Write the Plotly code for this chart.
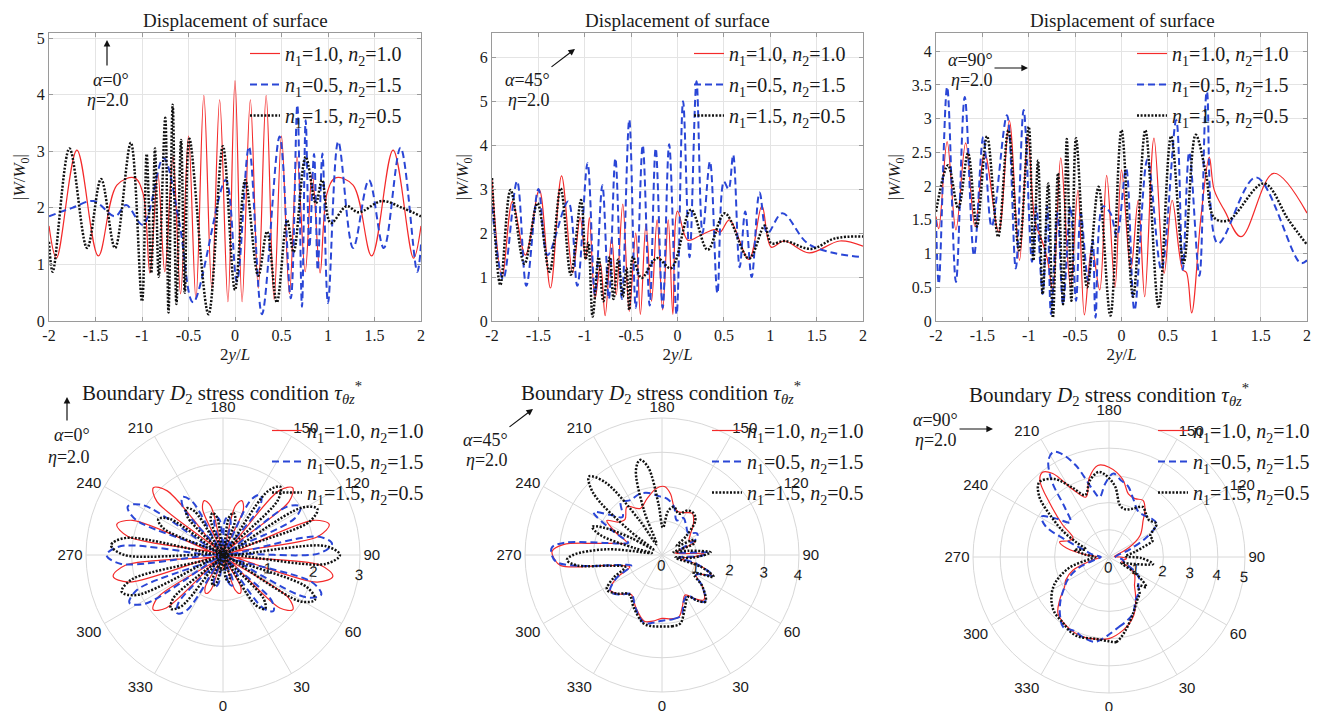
import plotly.graph_objects as go

W, H = 1330, 711

# ---------------- |W/W0| along 2y/L (top row) ----------------
# alpha = 0 deg
a0_red_x = [-2.0, -1.92, -1.70, -1.47, -1.27, -1.08, -0.99, -0.915, -0.83, -0.755, -0.667, -0.585, -0.50, -0.42, -0.335, -0.25, -0.165, -0.076, 0.0,
            0.076, 0.165, 0.25, 0.335, 0.42, 0.50, 0.585, 0.667, 0.755, 0.83, 0.915, 0.99, 1.08, 1.27, 1.47, 1.70, 1.92, 2.0]
a0_red_y = [1.68, 1.11, 3.02, 1.15, 2.40, 2.53, 2.26, 0.85, 2.61, 0.87, 2.90, 0.48, 3.27, 0.38, 3.99, 0.58, 3.91, 0.34, 4.25,
            0.34, 3.91, 0.58, 3.99, 0.38, 3.27, 0.48, 2.90, 0.87, 2.61, 0.85, 2.26, 2.53, 2.40, 1.15, 3.02, 1.11, 1.68]
a0_blue_x = [-2.0, -1.75, -1.52, -1.29, -1.17, -0.99, -0.77, -0.60, -0.45, -0.10, 0.02, 0.15, 0.29, 0.48, 0.60,
             0.67, 0.72, 0.76, 0.80, 0.85, 0.89, 0.94, 1.00, 1.11, 1.27, 1.44, 1.60, 1.78, 1.96, 2.0]
a0_blue_y = [1.85, 2.0, 2.12, 1.85, 2.05, 1.70, 2.88, 1.75, 0.33, 2.49, 0.70, 3.08, 0.12, 3.26, 0.40,
             3.82, 0.25, 3.55, 1.3, 2.95, 0.9, 2.96, 0.32, 3.17, 1.29, 2.49, 1.29, 3.06, 0.87, 1.35]
a0_blk_x = [-2.0, -1.96, -1.78, -1.59, -1.44, -1.29, -1.12, -1.00, -0.95, -0.90, -0.86, -0.82, -0.75, -0.715, -0.67, -0.63, -0.58, -0.54, -0.49,
            -0.285, -0.13, 0.0, 0.11, 0.25, 0.345, 0.45, 0.56, 0.63, 0.76, 0.87, 0.935, 1.03, 1.20, 1.33, 1.58, 1.80, 2.0]
a0_blk_y = [1.40, 0.87, 3.05, 1.29, 2.51, 1.29, 3.15, 0.35, 2.95, 0.85, 3.05, 0.78, 3.59, 0.15, 3.82, 0.30, 3.20, 0.50, 3.22,
            0.12, 3.09, 0.55, 2.49, 0.80, 1.58, 0.33, 1.78, 1.22, 2.90, 2.08, 2.49, 1.73, 2.03, 1.92, 2.12, 2.0, 1.85]

# alpha = 45 deg
a45_red_x = [-2.0, -1.89, -1.78, -1.64, -1.49, -1.37, -1.25, -1.13, -1.05, -0.99, -0.95, -0.89, -0.83, -0.78, -0.71, -0.66, -0.59, -0.52, -0.45, -0.40,
             -0.34, -0.28, -0.22, -0.16, -0.10, -0.05, 0.0, 0.11, 0.25, 0.40, 0.46, 0.56, 0.77, 0.91, 1.01, 1.15, 1.42, 1.75, 2.0]
a45_red_y = [3.2, 1.0, 2.72, 1.5, 2.98, 0.75, 3.30, 1.1, 2.35, 1.4, 2.35, 0.5, 1.3, 0.12, 1.9, 0.6, 2.66, 0.22, 2.0, 0.15,
             2.2, 0.45, 2.3, 0.25, 2.3, 0.15, 2.5, 1.84, 1.95, 2.08, 2.02, 2.30, 1.40, 2.62, 1.68, 1.82, 1.55, 1.82, 1.70]
a45_blue_x = [-2.0, -1.88, -1.73, -1.63, -1.50, -1.40, -1.18, -1.08, -0.97, -0.89, -0.81, -0.74, -0.67, -0.60, -0.52, -0.45, -0.375, -0.30, -0.235, -0.16,
              -0.09, -0.01, 0.06, 0.13, 0.205, 0.27, 0.35, 0.43, 0.50, 0.55, 0.60, 0.67, 0.73, 0.80, 0.885, 0.97, 1.13, 1.40, 1.70, 2.0]
a45_blue_y = [2.6, 0.95, 3.18, 0.80, 3.0, 1.5, 2.72, 0.80, 3.59, 0.6, 3.09, 0.5, 3.70, 0.5, 4.58, 0.3, 4.0, 0.35, 3.93, 0.3,
              4.02, 0.15, 5.0, 1.45, 5.45, 2.0, 3.63, 0.63, 3.17, 3.0, 3.78, 1.22, 2.49, 1.0, 2.92, 2.0, 2.45, 1.77, 1.54, 1.45]
a45_blk_x = [-2.0, -1.91, -1.80, -1.65, -1.51, -1.38, -1.26, -1.15, -1.04, -0.99, -0.96, -0.915, -0.85, -0.80, -0.73, -0.69, -0.64,
             -0.59, -0.55, -0.52, -0.48, -0.39, -0.22, -0.07, 0.145, 0.325, 0.51, 0.77, 0.94, 1.01, 1.16, 1.44, 1.70, 2.0]
a45_blk_y = [3.25, 0.82, 2.98, 1.30, 2.68, 1.12, 3.02, 1.05, 2.75, 1.4, 1.78, 0.10, 1.45, 0.45, 1.46, 0.5, 1.40,
             0.55, 1.2, 0.25, 1.46, 0.98, 1.43, 1.20, 2.53, 1.62, 2.45, 1.42, 2.17, 1.77, 1.82, 1.64, 1.88, 1.92]

# alpha = 90 deg
a90_red_x = [-2.0, -1.97, -1.88, -1.785, -1.68, -1.58, -1.475, -1.325, -1.21, -1.10, -1.01, -0.93, -0.86, -0.80, -0.74, -0.655, -0.55, -0.47, -0.40, -0.32,
             -0.235, -0.16, -0.07, 0.0, 0.10, 0.18, 0.25, 0.35, 0.46, 0.546, 0.66, 0.70, 0.757, 0.857, 0.946, 1.0, 1.11, 1.29, 1.64, 2.0]
a90_red_y = [1.55, 1.37, 2.66, 1.35, 2.64, 1.40, 2.49, 1.32, 2.97, 0.90, 2.73, 1.45, 1.20, 0.92, 0.45, 2.42, 0.5, 1.94, 0.09, 1.1,
             0.46, 2.16, 0.5, 2.24, 0.76, 1.79, 0.36, 2.71, 0.71, 1.79, 0.76, 0.72, 0.12, 1.55, 2.43, 1.94, 1.64, 1.25, 2.19, 1.6]
a90_blue_x = [-2.0, -1.97, -1.88, -1.785, -1.69, -1.59, -1.49, -1.40, -1.235, -1.14, -1.055, -0.965, -0.92, -0.85, -0.80, -0.76, -0.69, -0.63, -0.55, -0.49,
              -0.44, -0.36, -0.31, -0.28, -0.20, -0.12, -0.05, 0.05, 0.14, 0.28, 0.43, 0.59, 0.66, 0.73, 0.84, 0.92, 1.04, 1.45, 1.93, 2.0]
a90_blue_y = [1.5, 0.55, 3.47, 0.58, 3.32, 0.97, 2.73, 1.4, 3.05, 0.78, 3.13, 0.88, 1.7, 0.4, 1.7, 0.1, 1.6, 0.25, 1.7, 0.3,
              1.6, 0.6, 1.2, 0.05, 1.7, 1.6, 1.25, 2.26, 0.16, 2.40, 0.76, 2.98, 0.76, 2.5, 0.67, 3.4, 1.15, 2.13, 0.86, 0.90]
a90_blk_x = [-2.0, -1.87, -1.76, -1.655, -1.56, -1.45, -1.33, -1.22, -1.105, -1.0, -0.95, -0.90, -0.85, -0.79, -0.74, -0.685, -0.63, -0.59,
             -0.54, -0.49, -0.37, -0.247, -0.12, 0.0, 0.125, 0.257, 0.40, 0.535, 0.67, 0.80, 0.91, 1.0, 1.15, 1.535, 1.80, 2.0]
a90_blk_y = [1.62, 2.31, 1.67, 2.49, 1.40, 2.74, 1.25, 2.83, 1.05, 2.88, 0.9, 2.38, 0.4, 2.04, 0.05, 2.19, 0.25, 2.70,
             0.30, 2.71, 0.5, 1.99, 0.08, 2.83, 0.36, 2.83, 0.21, 2.74, 0.86, 2.76, 2.19, 1.53, 1.49, 2.04, 1.5, 1.13]

# ---------------- boundary stress tau_theta_z* (bottom row, polar) ----------------
# alpha = 0 deg
p0_red_t = [0, 10, 19, 24, 29, 38, 47, 52, 57, 65, 74, 79, 84, 92, 101, 106, 111, 120, 129, 134, 139, 147, 156, 161, 166, 172, 180,
            188, 194, 199, 204, 213, 221, 226, 231, 240, 249, 254, 259, 268, 276, 281, 286, 295, 303, 308, 313, 322, 331, 336, 341, 350, 360]
p0_red_r = [0.3, 0.03, 0.8, 0.92, 0.8, 0.03, 1.7, 1.94, 1.7, 0.03, 2.15, 2.45, 2.15, 0.03, 2.12, 2.42, 2.12, 0.03, 1.86, 2.12, 1.86, 0.03, 1.1, 1.26, 1.1, 0.03, 0.3,
            0.03, 1.1, 1.26, 1.1, 0.03, 1.86, 2.12, 1.86, 0.03, 2.12, 2.42, 2.12, 0.03, 2.15, 2.45, 2.15, 0.03, 1.7, 1.94, 1.7, 0.03, 0.8, 0.92, 0.8, 0.03, 0.3]
p0_blue_t = [0, 11, 16, 21, 29, 37, 42, 47, 55, 63, 68, 73, 82, 91, 96, 101, 109, 117, 122, 127, 135, 143, 148, 153, 160, 167, 172, 177, 181,
             185, 190, 195, 203, 210, 215, 220, 229, 238, 243, 248, 256, 265, 270, 275, 283, 292, 297, 302, 310, 317, 322, 327, 334, 341, 346, 351, 360]
p0_blue_r = [0.1, 0.6, 0.7, 0.6, 0.03, 1.45, 1.65, 1.45, 0.03, 2.04, 2.32, 2.04, 0.03, 2.11, 2.4, 2.11, 0.03, 1.76, 2.0, 1.76, 0.03, 1.36, 1.55, 1.36, 0.03, 0.75, 0.85, 0.75, 0.05,
             0.75, 0.85, 0.75, 0.03, 1.36, 1.55, 1.36, 0.03, 2.06, 2.34, 2.06, 0.03, 2.24, 2.55, 2.24, 0.03, 2.02, 2.3, 2.02, 0.03, 1.43, 1.62, 1.43, 0.03, 0.63, 0.72, 0.63, 0.1]
p0_blk_t = [0, 7, 12, 17, 25, 33, 38, 43, 51, 59, 64, 69, 77, 85, 90, 95, 103, 111, 116, 121, 128, 135, 140, 145, 153, 161, 166, 171, 180,
            189, 194, 199, 206, 213, 218, 223, 230, 236, 241, 246, 253, 260, 265, 270, 278, 285, 290, 295, 303, 311, 316, 321, 329, 337, 342, 347, 360]
p0_blk_r = [0.15, 0.52, 0.6, 0.52, 0.03, 1.3, 1.5, 1.3, 0.03, 1.97, 2.24, 1.97, 0.03, 2.25, 2.56, 2.25, 0.03, 2.02, 2.3, 2.02, 0.03, 1.7, 1.95, 1.7, 0.03, 0.83, 0.95, 0.83, 0.1,
            0.83, 0.95, 0.83, 0.03, 1.14, 1.3, 1.14, 0.03, 1.42, 1.62, 1.42, 0.03, 2.16, 2.46, 2.16, 0.03, 2.07, 2.36, 2.07, 0.03, 1.44, 1.64, 1.44, 0.03, 0.62, 0.7, 0.62, 0.15]

# alpha = 45 deg
p45_red_t = [0, 8, 15, 22, 30, 37, 43, 52, 60, 68, 75, 80, 86, 92, 98, 104, 112, 118, 125, 135, 144, 152, 160, 166, 172, 178, 185, 195, 205, 216, 226, 233,
             238, 244, 251, 255, 260, 264, 268, 272, 276, 280, 285, 290, 297, 304, 312, 322, 333, 345, 352, 360]
p45_red_r = [1.85, 1.88, 1.88, 1.6, 1.35, 1.6, 1.79, 1.5, 1.15, 1.55, 1.1, 0.5, 0.9, 1.22, 0.4, 0.5, 1.05, 0.9, 1.0, 1.3, 1.5, 1.4, 1.35, 1.45, 1.8, 2.0, 1.95, 1.7, 1.5, 1.74, 1.5, 1.6,
             1.9, 1.5, 1.07, 1.31, 1.96, 2.9, 3.21, 3.15, 2.97, 1.79, 1.2, 1.0, 1.5, 1.83, 1.7, 1.46, 1.7, 2.0, 1.95, 1.85]
p45_blue_t = [0, 10, 18, 25, 32, 38, 43, 52, 60, 68, 76, 82, 88, 93, 100, 108, 116, 122, 130, 140, 150, 157, 166, 175, 183, 192, 200, 210, 218, 226, 232,
              238, 244, 250, 255, 259, 263, 266, 270, 274, 278, 283, 289, 297, 305, 313, 322, 333, 345, 352, 360]
p45_blue_r = [1.92, 1.9, 1.85, 1.5, 1.4, 1.7, 1.85, 1.5, 1.15, 1.6, 1.0, 0.5, 1.1, 1.35, 0.5, 0.6, 1.15, 1.2, 1.0, 1.1, 1.25, 1.1, 1.45, 1.65, 1.72, 1.85, 1.9, 1.85, 1.95, 1.6, 1.9,
              2.35, 1.6, 1.05, 1.3, 1.9, 2.9, 3.22, 3.22, 3.07, 2.3, 1.3, 0.95, 1.5, 1.85, 1.7, 1.45, 1.72, 2.05, 2.0, 1.92]
p45_blk_t = [0, 8, 15, 23, 32, 38, 43, 52, 60, 67, 73, 79, 85, 93, 99, 104, 110, 115, 121, 128, 136, 143, 150, 158, 166, 172, 178, 184, 189, 193, 197,
             202, 207, 213, 218, 223, 228, 233, 237, 241, 245, 248, 252, 256, 259, 264, 270, 273, 277, 282, 288, 295, 302, 310, 320, 332, 345, 352, 360]
p45_blk_r = [2.09, 2.1, 2.07, 1.7, 1.44, 1.7, 1.86, 1.5, 1.07, 1.64, 1.2, 0.4, 0.9, 1.42, 0.8, 0.35, 1.0, 1.05, 0.5, 0.9, 1.4, 1.53, 1.5, 1.3, 1.45, 1.3, 0.8, 1.5, 2.6, 2.85, 2.6,
             1.4, 0.35, 1.2, 2.7, 3.13, 2.7, 1.2, 0.3, 1.0, 1.9, 2.2, 1.9, 0.8, 0.3, 1.6, 2.6, 2.78, 2.5, 1.5, 1.13, 1.55, 1.9, 1.75, 1.5, 1.75, 2.07, 2.1, 2.09]

# alpha = 90 deg
p90_red_t = [0, 11, 20, 26, 35, 42, 48, 55, 62, 70, 78, 85, 90, 95, 105, 115, 125, 137, 143, 149, 156, 163, 170, 180, 187, 194, 201, 208, 214, 218, 222,
             228, 235, 242, 248, 253, 258, 265, 272, 280, 290, 298, 304, 311, 318, 330, 342, 352, 360]
p90_red_r = [3.0, 2.74, 2.45, 2.18, 1.7, 1.4, 1.28, 1.15, 0.9, 0.5, 0.55, 0.65, 0.4, 0.2, 0.3, 0.8, 1.4, 1.84, 2.2, 2.43, 2.35, 2.43, 2.9, 3.3, 3.39, 3.0, 2.36, 2.8, 3.7, 3.96, 3.8,
             2.9, 2.1, 1.5, 1.6, 1.9, 1.6, 0.8, 0.3, 0.6, 1.4, 1.8, 1.97, 2.4, 2.8, 3.0, 3.09, 3.05, 3.0]
p90_blue_t = [0, 8, 15, 23, 32, 40, 48, 55, 62, 70, 80, 90, 100, 110, 118, 125, 133, 140, 148, 157, 165, 171, 177, 183, 189, 194, 200, 205, 208, 212,
              217, 222, 228, 234, 239, 244, 249, 255, 262, 270, 280, 290, 298, 304, 312, 320, 327, 335, 342, 350, 356, 360]
p90_blue_r = [2.85, 2.6, 2.45, 2.26, 1.85, 1.7, 1.45, 1.35, 1.0, 0.6, 0.5, 0.25, 0.3, 0.8, 1.6, 2.13, 2.1, 2.0, 2.0, 2.3, 2.7, 2.85, 3.07, 2.7, 2.23, 2.6, 3.6, 4.2, 4.37, 4.2,
              3.5, 2.4, 1.9, 2.4, 2.89, 2.6, 1.6, 0.9, 0.6, 0.3, 0.5, 1.2, 1.7, 1.97, 2.4, 2.8, 3.08, 3.0, 3.1, 3.17, 3.0, 2.85]
p90_blk_t = [0, 5, 12, 23, 33, 40, 46, 51, 58, 65, 72, 81, 88, 93, 100, 106, 111, 117, 125, 133, 140, 146, 155, 161, 168, 175, 182, 187, 194, 201,
             208, 215, 223, 229, 235, 241, 246, 252, 258, 264, 270, 276, 285, 294, 300, 307, 315, 325, 333, 340, 350, 360]
p90_blk_r = [3.1, 3.13, 2.8, 2.26, 1.9, 1.75, 1.5, 1.76, 1.2, 0.5, 0.8, 1.64, 1.2, 0.6, 0.9, 1.3, 1.73, 1.7, 2.13, 2.0, 2.1, 2.22, 1.95, 1.85, 1.94, 2.6, 3.0, 3.15, 2.9, 2.44,
             2.9, 3.5, 3.76, 3.4, 2.6, 1.9, 1.3, 0.9, 1.3, 0.9, 0.5, 0.7, 1.5, 2.1, 2.4, 2.65, 2.85, 2.95, 3.1, 3.13, 3.05, 3.1]

series_names = ['<i>n</i><sub>1</sub>=1.0, <i>n</i><sub>2</sub>=1.0',
                '<i>n</i><sub>1</sub>=0.5, <i>n</i><sub>2</sub>=1.5',
                '<i>n</i><sub>1</sub>=1.5, <i>n</i><sub>2</sub>=0.5']
incidence = ['0°', '45°', '90°']
x_ticks = [-2, -1.5, -1, -0.5, 0, 0.5, 1, 1.5, 2]
x_ticktext = ['-2', '-1.5', '-1', '-0.5', '0', '0.5', '1', '1.5', '2']
y_top = [5.09, 6.55, 4.27]
y_dtick = [1, 1, 0.5]
r_max = [3, 4, 5]

RED, BLUE, BLACK = '#f42a2a', '#2a46d6', '#111111'
styles = [dict(color=RED, width=1.2, dash='solid'),
          dict(color=BLUE, width=2.0, dash='7px,4px'),
          dict(color=BLACK, width=2.5, dash='2px,1.6px')]

SERIF = 'Times New Roman, Liberation Serif, serif'
SANS = 'Arial, Liberation Sans, sans-serif'
TXT = '#1a1a1a'

fig = go.Figure()

top_sets = [
    [(a0_red_x, a0_red_y), (a0_blue_x, a0_blue_y), (a0_blk_x, a0_blk_y)],
    [(a45_red_x, a45_red_y), (a45_blue_x, a45_blue_y), (a45_blk_x, a45_blk_y)],
    [(a90_red_x, a90_red_y), (a90_blue_x, a90_blue_y), (a90_blk_x, a90_blk_y)],
]
bot_sets = [
    [(p0_red_t, p0_red_r), (p0_blue_t, p0_blue_r), (p0_blk_t, p0_blk_r)],
    [(p45_red_t, p45_red_r), (p45_blue_t, p45_blue_r), (p45_blk_t, p45_blk_r)],
    [(p90_red_t, p90_red_r), (p90_blue_t, p90_blue_r), (p90_blk_t, p90_blk_r)],
]

# pixel boxes of the panels
top_px = [(49, 421), (492, 863), (936, 1307)]
top_py = (33, 321)
pol_box = [(223, 555, 137), (662, 555, 137), (1109, 557, 136)]


def fx(px):
    return px / W


def fy(py):
    return 1 - py / H


legend_pos_top = [253, 697, 1140]
legend_pos_bot = [275, 715, 1161]

layout = dict(width=W, height=H, margin=dict(l=0, r=0, t=0, b=0, autoexpand=False), autosize=False,
              paper_bgcolor='white', plot_bgcolor='white', showlegend=True)

legend_common = dict(xanchor='left', yanchor='top', bgcolor='rgba(0,0,0,0)', borderwidth=0,
                     tracegroupgap=2, font=dict(family=SERIF, size=20, color=TXT))

for i in range(3):
    ax = '' if i == 0 else str(i + 1)
    lg = 'legend' if i == 0 else 'legend%d' % (i + 1)
    for k, (xs, ys) in enumerate(top_sets[i]):
        fig.add_trace(go.Scatter(x=xs, y=ys, mode='lines', name=series_names[k],
                                 line=dict(shape='spline', smoothing=1.0, **styles[k]),
                                 xaxis='x' + ax, yaxis='y' + ax, legend=lg,
                                 legendgroup='t%d_%d' % (i, k)))
    x0, x1 = top_px[i]
    layout['xaxis' + ax] = dict(domain=[fx(x0), fx(x1)], range=[-2, 2], tickvals=x_ticks, ticktext=x_ticktext,
                                showgrid=True, gridcolor='#e4e4e4', zeroline=False, showline=True, mirror='ticks',
                                linecolor='#9a9a9a', ticks='inside', ticklen=4, tickcolor='#9a9a9a',
                                tickfont=dict(family=SERIF, size=16, color=TXT), automargin=False,
                                title=dict(text='2<i>y</i>/<i>L</i>', font=dict(family=SERIF, size=17, color=TXT), standoff=4),
                                anchor='y' + ax)
    layout['yaxis' + ax] = dict(domain=[fy(top_py[1]), fy(top_py[0])], range=[0, y_top[i]], dtick=y_dtick[i], tick0=0,
                                showgrid=True, gridcolor='#e4e4e4', zeroline=False, showline=True, mirror='ticks',
                                linecolor='#9a9a9a', ticks='inside', ticklen=4, tickcolor='#9a9a9a',
                                tickfont=dict(family=SERIF, size=16, color=TXT), automargin=False,
                                title=dict(text='|<i>W</i>/<i>W</i><sub>0</sub>|', font=dict(family=SERIF, size=17, color=TXT), standoff=6),
                                anchor='x' + ax)
    layout[lg] = dict(x=fx(legend_pos_top[i] - 8), y=fy(34), **legend_common)

for i in range(3):
    pname = 'polar' if i == 0 else 'polar%d' % (i + 1)
    lg = 'legend%d' % (i + 4)
    for k, (ts, rs) in enumerate(bot_sets[i]):
        fig.add_trace(go.Scatterpolar(theta=ts, r=rs, mode='lines', name=series_names[k],
                                      line=dict(shape='spline', smoothing=1.0, **styles[k]),
                                      subplot=pname, legend=lg, legendgroup='p%d_%d' % (i, k)))
    cx, cy, R = pol_box[i]
    layout[pname] = dict(domain=dict(x=[fx(cx - R), fx(cx + R)], y=[fy(cy + R), fy(cy - R)]),
                         bgcolor='white',
                         angularaxis=dict(rotation=270, direction='counterclockwise',
                                          tickvals=list(range(0, 360, 30)),
                                          ticktext=[str(v) for v in range(0, 360, 30)],
                                          showline=True, linecolor='#d8d8d8', gridcolor='#d8d8d8',
                                          ticks='', tickfont=dict(family=SANS, size=15, color=TXT)),
                         radialaxis=dict(range=[0, r_max[i]], dtick=1, tick0=0, angle=-4,
                                         showline=False, gridcolor='#d8d8d8', ticks='',
                                         tickfont=dict(family=SANS, size=15, color=TXT)))
    layout[lg] = dict(x=fx(legend_pos_bot[i] - 8), y=fy(411), **legend_common)

annotations = []


def label(px, py, text, size=18):
    annotations.append(dict(x=fx(px), y=fy(py), xref='paper', yref='paper', showarrow=False,
                            xanchor='center', yanchor='middle', text=text,
                            font=dict(family=SERIF, size=size, color=TXT)))


for tx in (235, 677, 1122):
    label(tx, 21, 'Displacement of surface', 19)
for tx, ty in ((222, 392), (661, 392), (1109, 394)):
    label(tx, ty, 'Boundary <i>D</i><sub>2</sub> stress condition <i>τ</i><sub><i>θz</i></sub><sup>*</sup>', 21)

# incidence-direction arrows (head, tail) and the alpha / eta labels
arrows = [((107, 40), (107, 67)), ((575, 49), (550, 68)), ((1028, 68), (993, 68)),
          ((67, 397), (67, 422)), ((533, 409), (508, 428)), ((993, 429), (958, 429))]
for (hx, hy), (tx, ty) in arrows:
    annotations.append(dict(x=fx(hx), y=fy(hy), xref='paper', yref='paper', ax=tx - hx, ay=ty - hy,
                            axref='pixel', ayref='pixel', text='', showarrow=True, arrowhead=2,
                            arrowsize=1.1, arrowwidth=1.2, arrowcolor='#111111'))
label_pos = [((111, 80), (108, 100)), ((527, 80), (529, 100)), ((970, 60), (972, 80)),
             ((72, 435), (69, 457)), ((485, 440), (487, 460)), ((935, 420), (936, 440))]
for j, ((ax_, ay_), (ex, ey)) in enumerate(label_pos):
    label(ax_, ay_, '<i>α</i>=' + incidence[j % 3])
    label(ex, ey, '<i>η</i>=2.0')

layout['annotations'] = annotations
fig.update_layout(**layout)
fig.write_html('out.html')
